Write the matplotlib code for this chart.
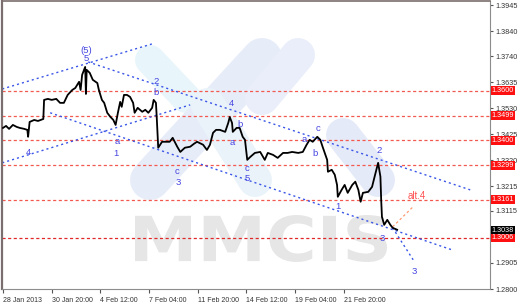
import matplotlib
matplotlib.use("Agg")
import matplotlib.pyplot as plt
from matplotlib.transforms import Affine2D, blended_transform_factory
from matplotlib.textpath import TextPath
from matplotlib.font_manager import FontProperties
from matplotlib.patches import PathPatch

# ---------------- data ----------------
bars = [0, 4, 8, 13, 18, 22, 28, 32, 33, 35,
        41, 46, 53, 54, 59, 64, 70, 75, 80, 85,
        91, 95, 100, 102, 104, 108, 109, 110, 114, 118,
        124, 126, 130, 133, 137, 141, 145, 148, 151, 154,
        156, 159, 163, 167, 171, 173, 177, 183, 187, 191,
        196, 198, 201, 202, 204, 209, 214, 219, 223, 229,
        233, 239, 246, 251, 255, 263, 268, 272, 276, 280,
        285, 292, 296, 298, 301, 302, 307, 311, 315, 318,
        321, 325, 331, 338, 344, 348, 355, 361, 368, 374,
        380, 388, 394, 399, 403, 407, 413, 417, 420, 426,
        427, 432, 436, 439, 440, 445, 449, 453, 459, 463,
        467, 470, 473, 480, 485, 489, 493, 496, 497, 498,
        501, 505, 509, 512, 518]
prices = [1.3450, 1.3458, 1.3446, 1.3462, 1.3454, 1.3450, 1.3446, 1.3442, 1.3414, 1.3474,
          1.3482, 1.3478, 1.3486, 1.3563, 1.3567, 1.3563, 1.3567, 1.3551, 1.3551, 1.3583,
          1.3603, 1.3611, 1.3636, 1.3603, 1.3664, 1.3696, 1.3587, 1.3684, 1.3672, 1.3644,
          1.3631, 1.3603, 1.3563, 1.3551, 1.3511, 1.3495, 1.3482, 1.3462, 1.3511, 1.3555,
          1.3535, 1.3583, 1.3583, 1.3575, 1.3551, 1.3511, 1.3531, 1.3515, 1.3523, 1.3511,
          1.3531, 1.3563, 1.3551, 1.3495, 1.3370, 1.3394, 1.3394, 1.3394, 1.3410, 1.3374,
          1.3353, 1.3370, 1.3374, 1.3386, 1.3394, 1.3382, 1.3361, 1.3382, 1.3430, 1.3442,
          1.3442, 1.3434, 1.3470, 1.3494, 1.3470, 1.3434, 1.3450, 1.3450, 1.3414, 1.3402,
          1.3321, 1.3333, 1.3349, 1.3353, 1.3321, 1.3349, 1.3341, 1.3329, 1.3349, 1.3349,
          1.3353, 1.3349, 1.3353, 1.3382, 1.3402, 1.3394, 1.3414, 1.3402, 1.3374, 1.3321,
          1.3273, 1.3281, 1.3261, 1.3220, 1.3172, 1.3200, 1.3220, 1.3188, 1.3220, 1.3233,
          1.3200, 1.3152, 1.3188, 1.3192, 1.3212, 1.3261, 1.3309, 1.3253, 1.3160, 1.3091,
          1.3059, 1.3079, 1.3059, 1.3047, 1.3039]

xtick_bars = [0, 64, 128, 192, 256, 320, 384, 448]
xtick_labels = ["28 Jan 2013", "30 Jan 20:00", "4 Feb 12:00", "7 Feb 04:00",
                "11 Feb 20:00", "14 Feb 12:00", "19 Feb 04:00", "21 Feb 20:00"]
ytick_values = [1.3945, 1.3840, 1.3740, 1.3635, 1.3530, 1.3425, 1.3320,
                1.3215, 1.3115, 1.2905, 1.2800]

level_values = [1.3600, 1.3499, 1.3400, 1.3299, 1.3161, 1.3006]
current_price = 1.3038

# trend lines: (bar0, price0, bar1, price1)
trend_lines = [(-1, 1.3607, 196, 1.3789),
               (-1, 1.3309, 246, 1.3543),
               (112, 1.3716, 614, 1.3200),
               (62, 1.3511, 590, 1.2958),
               (512, 1.3047, 539, 1.2918)]
alt_line = (512, 1.3051, 539, 1.3132)

wave_text = ["(5)", "5", "4", "a", "1", "2", "b", "c", "3", "4", "b", "a", "c", "5",
             "a", "c", "b", "1", "2", "3", "3"]
wave_bar = [109, 109, 34, 150, 148, 201, 201, 229, 230, 300, 311, 301, 321, 321,
            396, 414, 410, 440, 495, 499, 540]
wave_price = [1.3764, 1.3731, 1.3349, 1.3394, 1.3345, 1.3636, 1.3591, 1.3276, 1.3229,
              1.3547, 1.3462, 1.3390, 1.3286, 1.3245, 1.3402, 1.3446, 1.3345, 1.3132,
              1.3357, 1.3003, 1.2870]
alt_label = ("alt.4", 544, 1.3176)

# ---------------- figure ----------------
W, H = 520, 308
fig = plt.figure(figsize=(W / 100, H / 100), dpi=100)
ax = fig.add_axes([2 / W, 1 - 289 / H, 488 / W, 288 / H])
ax.set_xlim(-1.3, 640)
ax.set_ylim(1.2801, 1.3962)

pix = Affine2D().scale(1 / W, -1 / H).translate(0, 1) + fig.transFigure

# watermark logo bands (very pale)
bands = [((150, 60), (186, 98), 30, "#e8f5fb"),
         ((150, 180), (262, 58), 40, "#e7ecf9"),
         ((208, 105), (255, 180), 34, "#eaf3fa"),
         ((262, 98), (298, 55), 34, "#e9eefa"),
         ((343, 135), (378, 180), 34, "#e5eaf8")]
for (x0, y0), (x1, y1), wd, col in bands:
    fig.add_artist(plt.Line2D([x0, x1], [y0, y1], transform=pix, lw=wd * 0.72,
                              color=col, solid_capstyle="round", zorder=-2))

# MMCIS watermark text
tp = TextPath((0, 0), "MMCIS", size=1,
              prop=FontProperties(family="DejaVu Sans", weight="bold"))
ext = tp.get_extents()
tr = Affine2D().translate(-ext.x0, -ext.y0).scale(252 / ext.width, -47 / ext.height) \
    .translate(135, 262) + pix
fig.add_artist(PathPatch(tp, transform=tr, facecolor="#e6e6e6", edgecolor="none", zorder=-1))

ax.patch.set_alpha(0)

# horizontal levels
for v in level_values:
    col = "#e02828" if v == level_values[-1] else "#f25a50"
    ax.axhline(v, color=col, lw=0.9, ls=(0, (2.5, 2)), zorder=2)

# trend lines
for b0, p0, b1, p1 in trend_lines:
    ax.plot([b0, b1], [p0, p1], color="#3a55e8", lw=1.0, ls=(0, (1.5, 2.2)), zorder=2)
ax.plot([alt_line[0], alt_line[2]], [alt_line[1], alt_line[3]], color="#ff9a70",
        lw=0.9, ls=(0, (2, 2)), zorder=2)

# price
ax.plot(bars, prices, color="black", lw=1.3, zorder=4)

# wave labels
for t, b, p in zip(wave_text, wave_bar, wave_price):
    ax.text(b, p, t, color="#4646e2", fontsize=6.8, ha="center", va="center",
            family="Liberation Sans", zorder=5)
ax.text(alt_label[1], alt_label[2], alt_label[0], color="#ff5050", fontsize=7,
        ha="center", va="center", family="Liberation Sans", zorder=5)

# axes styling
for s in ["right", "bottom"]:
    ax.spines[s].set_color("#8c8c8c")
    ax.spines[s].set_linewidth(0.8)
ax.spines["left"].set_color("#7a6e6e")
ax.spines["left"].set_linewidth(1.6)
ax.spines["top"].set_linewidth(1.2)
ax.spines["top"].set_color("#7a6e6e")

ax.yaxis.tick_right()
ax.set_yticks(ytick_values)
ax.set_yticklabels([f"{v:.4f}" for v in ytick_values])
ax.tick_params(axis="y", length=2, width=0.8, color="#555555", pad=2,
               labelsize=5.2, labelcolor="#333333")
ax.set_xticks(xtick_bars)
ax.set_xticklabels(xtick_labels)
ax.tick_params(axis="x", length=3, width=0.8, color="#555555", pad=3,
               labelsize=5, labelcolor="#333333")
for lab in ax.get_xticklabels() + ax.get_yticklabels():
    lab.set_family("Liberation Sans")
for lab in ax.get_xticklabels():
    lab.set_ha("left")

# right price boxes
btr = blended_transform_factory(ax.transAxes, ax.transData)
for v in level_values + [current_price]:
    fc = "black" if v == current_price else "#ff1010"
    ax.text(1.003, v, f"{v:.4f}", transform=btr, fontsize=5.2, color="white",
            family="Liberation Sans", ha="left", va="center", zorder=6, clip_on=False,
            bbox=dict(boxstyle="square,pad=0.12", fc=fc, ec="none"))

fig.savefig("out.png", dpi=100)
